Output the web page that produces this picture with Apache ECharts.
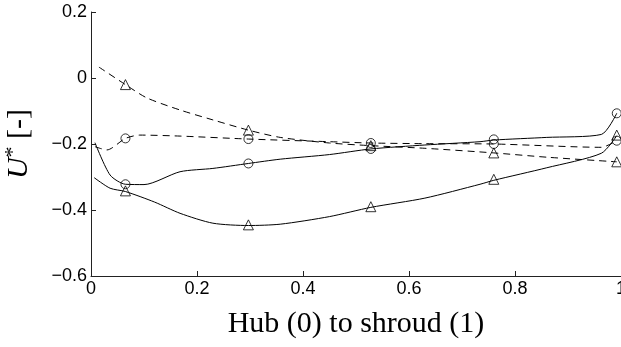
<!DOCTYPE html>
<html>
<head>
<meta charset="utf-8">
<script src="https://cdn.jsdelivr.net/npm/echarts@6/dist/echarts.min.js"></script>
<style>
  html, body { margin: 0; padding: 0; background: #fff; }
  #chart { width: 621px; height: 347px; }
</style>
</head>
<body>
<div id="chart"></div>
<script>
// stations where the markers sit
const stationX = [0.065, 0.297, 0.528, 0.76, 0.992]

// solid line, circles
const solidCircX = [0.0075, 0.036, 0.065, 0.1, 0.168, 0.23, 0.297, 0.357, 0.45, 0.528, 0.63, 0.734, 0.76, 0.86, 0.963, 0.992]
const solidCircY = [-0.196, -0.294, -0.322, -0.323, -0.284, -0.274, -0.259, -0.246, -0.232, -0.215, -0.203, -0.193, -0.188, -0.18, -0.171, -0.107]
const solidCircMk = [-0.322, -0.259, -0.215, -0.186, -0.107]

// solid line, triangles
const solidTriX = [0.006, 0.036, 0.065, 0.12, 0.168, 0.23, 0.297, 0.357, 0.45, 0.528, 0.63, 0.734, 0.76, 0.86, 0.963, 0.992]
const solidTriY = [-0.302, -0.334, -0.344, -0.376, -0.41, -0.44, -0.447, -0.443, -0.42, -0.392, -0.364, -0.322, -0.31, -0.272, -0.228, -0.175]
const solidTriMk = [-0.342, -0.445, -0.39, -0.307, -0.173]

// dashed line, triangles
const dashTriX = [0.015, 0.065, 0.105, 0.168, 0.23, 0.297, 0.357, 0.45, 0.528, 0.63, 0.76, 0.86, 0.992]
const dashTriY = [0.033, -0.02, -0.06, -0.097, -0.127, -0.158, -0.18, -0.197, -0.205, -0.213, -0.227, -0.24, -0.254]
const dashTriMk = [-0.02, -0.158, -0.205, -0.227, -0.254]

// dashed line, circles
const dashCircX = [0.0075, 0.03, 0.065, 0.092, 0.168, 0.297, 0.45, 0.528, 0.63, 0.76, 0.963, 0.992]
const dashCircY = [-0.208, -0.218, -0.183, -0.173, -0.176, -0.185, -0.193, -0.197, -0.199, -0.2, -0.21, -0.19]
const dashCircMk = [-0.183, -0.185, -0.197, -0.2, -0.19]

const zip = (xs, ys) => xs.map((x, i) => [x, ys[i]])

const lineSeries = (xs, ys, dashed) => ({
    type: 'line',
    data: zip(xs, ys),
    showSymbol: false,
    smooth: 0.25,
    silent: true,
    lineStyle: { color: '#000', width: 1, type: dashed ? [7, 5] : 'solid' }
})

const markSeries = (ys, shape) => ({
    type: 'scatter',
    data: zip(stationX, ys),
    symbol: shape,
    symbolSize: shape === 'circle' ? 9 : 10,
    silent: true,
    itemStyle: { color: 'rgba(0,0,0,0)', borderColor: '#000', borderWidth: 1 }
})

const minus = v => (v < 0 ? '\u2212' : '') + Math.abs(Math.round(v * 10) / 10)

const chart = echarts.init(document.getElementById('chart'))
chart.setOption({
    animation: false,
    grid: { left: 91, right: 0, top: 12, bottom: 71, containLabel: false, outerBoundsMode: 'none' },
    xAxis: {
        type: 'value',
        min: 0, max: 1, interval: 0.2,
        name: 'Hub (0) to shroud (1)',
        nameLocation: 'middle',
        nameGap: 33,
        nameTextStyle: { fontFamily: 'Liberation Serif', fontSize: 30, color: '#000' },
        axisLine: { onZero: false, lineStyle: { color: '#222', width: 1 } },
        axisTick: { inside: true, length: 5, lineStyle: { color: '#222' } },
        axisLabel: { fontFamily: 'Liberation Sans', fontSize: 18, color: '#000', margin: 4, showMaxLabel: true, formatter: minus },
        splitLine: { show: false }
    },
    yAxis: {
        type: 'value',
        min: -0.6, max: 0.2, interval: 0.2,
        name: '{u|U}{s|*}{t| [-]}',
        nameLocation: 'middle',
        nameGap: 55,
        nameTextStyle: {
            fontFamily: 'Liberation Serif', fontSize: 30, color: '#000',
            rich: {
                u: { fontFamily: 'Liberation Serif', fontStyle: 'italic', fontSize: 30, color: '#000' },
                s: { fontFamily: 'Liberation Serif', fontSize: 22, color: '#000', verticalAlign: 'top', padding: [0, 0, 12, 0] },
                t: { fontFamily: 'Liberation Serif', fontSize: 30, color: '#000' }
            }
        },
        axisLine: { show: true, onZero: false, lineStyle: { color: '#222', width: 1 } },
        axisTick: { show: true, inside: true, length: 5, lineStyle: { color: '#222' } },
        axisLabel: { fontFamily: 'Liberation Sans', fontSize: 18, color: '#000', margin: 4, formatter: minus },
        splitLine: { show: false }
    },
    series: [
        lineSeries(solidCircX, solidCircY, false),
        lineSeries(solidTriX, solidTriY, false),
        lineSeries(dashTriX, dashTriY, true),
        lineSeries(dashCircX, dashCircY, true),
        markSeries(solidCircMk, 'circle'),
        markSeries(solidTriMk, 'triangle'),
        markSeries(dashTriMk, 'triangle'),
        markSeries(dashCircMk, 'circle')
    ]
})
</script>
</body>
</html>
